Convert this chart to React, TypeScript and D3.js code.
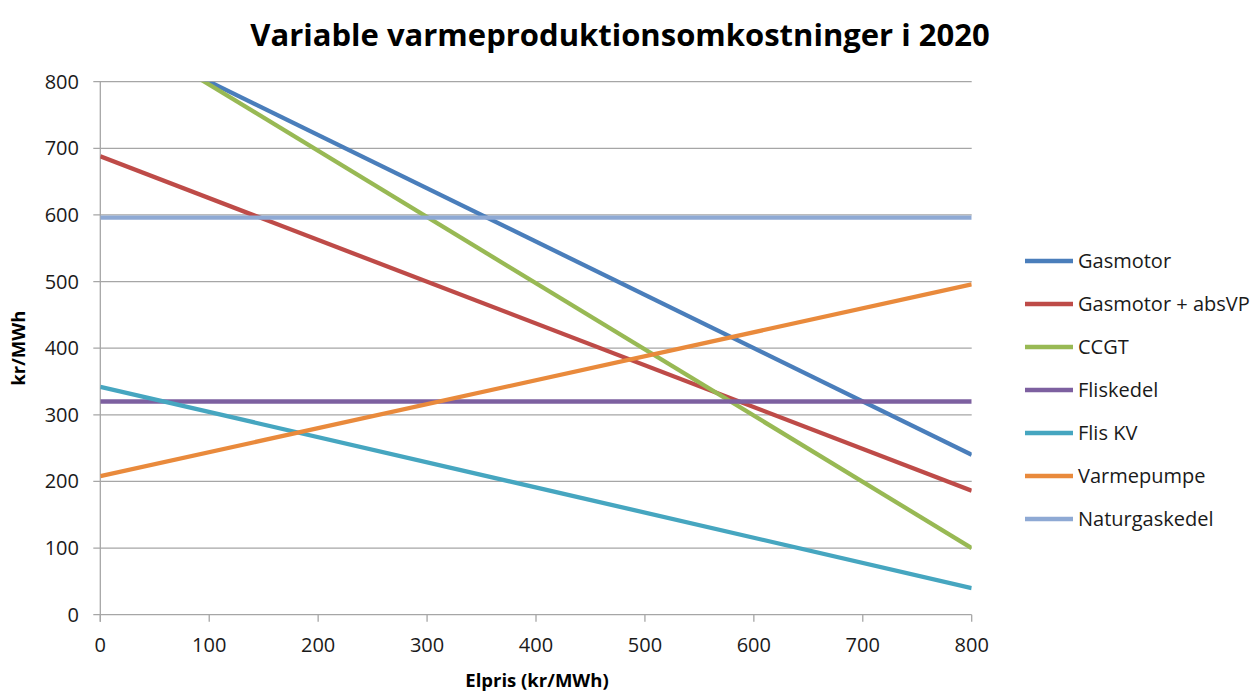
import React from "react";
import * as d3 from "d3";

// Electricity price (kr/MWh) at the two ends of each cost line
const elpris = [0, 800];

const seriesNames = [
  "Gasmotor",
  "Gasmotor + absVP",
  "CCGT",
  "Fliskedel",
  "Flis KV",
  "Varmepumpe",
  "Naturgaskedel",
];

// Variable heat production cost (kr/MWh) at elpris 0 and 800
const gasmotor = [880, 240];
const gasmotorAbsVP = [688, 186];
const ccgt = [895, 100];
const fliskedel = [320, 320];
const flisKV = [342, 40];
const varmepumpe = [208, 496];
const naturgaskedel = [596, 596];

const seriesValues = [gasmotor, gasmotorAbsVP, ccgt, fliskedel, flisKV, varmepumpe, naturgaskedel];

const seriesColors = ["#4A7EBB", "#BE4B48", "#98B954", "#7D60A0", "#46A6C0", "#E98A3C", "#8EA9D4"];

const xTicks = [0, 100, 200, 300, 400, 500, 600, 700, 800];
const yTicks = [0, 100, 200, 300, 400, 500, 600, 700, 800];

const W = 1255;
const H = 693;
const plot = { left: 100.3, right: 971.7, top: 81.7, bottom: 614.7 };
const FONT = "'Open Sans', 'Liberation Sans', sans-serif";
const GRID = "#A6A6A6";

export default function App() {
  const x = d3.scaleLinear().domain([0, 800]).range([plot.left, plot.right]);
  const y = d3.scaleLinear().domain([0, 800]).range([plot.bottom, plot.top]);
  const line = d3
    .line<[number, number]>()
    .x((d) => x(d[0]))
    .y((d) => y(d[1]));

  const legendX = 1025;
  const legendY0 = 261;
  const legendStep = 43;

  return (
    <svg
      width={W}
      height={H}
      style={{ position: "absolute", left: 0, top: 0, background: "#fff" }}
      fontFamily={FONT}
    >
      <defs>
        <clipPath id="plotClip">
          <rect x={plot.left} y={plot.top} width={plot.right - plot.left} height={plot.bottom - plot.top} />
        </clipPath>
      </defs>

      <text x={620} y={46} textAnchor="middle" fontSize={31} fontWeight="bold" fill="#000">
        Variable varmeproduktionsomkostninger i 2020
      </text>

      {/* horizontal gridlines and y ticks */}
      {yTicks.map((t) => (
        <g key={"y" + t}>
          <line x1={plot.left - 7} x2={plot.right} y1={y(t)} y2={y(t)} stroke={GRID} strokeWidth={1.3} />
          <text x={79} y={y(t) + 7} textAnchor="end" fontSize={20} fill="#1a1a1a">
            {t}
          </text>
        </g>
      ))}

      {/* y axis line */}
      <line x1={plot.left} x2={plot.left} y1={plot.top} y2={plot.bottom + 7} stroke={GRID} strokeWidth={1.3} />

      {/* x ticks */}
      {xTicks.map((t) => (
        <g key={"x" + t}>
          <line x1={x(t)} x2={x(t)} y1={plot.bottom} y2={plot.bottom + 7} stroke={GRID} strokeWidth={1.3} />
          <text x={x(t)} y={652} textAnchor="middle" fontSize={20} fill="#1a1a1a">
            {t}
          </text>
        </g>
      ))}

      {/* cost lines */}
      <g clipPath="url(#plotClip)">
        {seriesValues.map((vals, i) => (
          <path
            key={seriesNames[i]}
            d={line(elpris.map((e, j) => [e, vals[j]] as [number, number])) || ""}
            fill="none"
            stroke={seriesColors[i]}
            strokeWidth={4.3}
          />
        ))}
      </g>

      {/* axis titles */}
      <text
        transform={`translate(25, ${(plot.top + plot.bottom) / 2}) rotate(-90)`}
        textAnchor="middle"
        fontSize={18.5}
        fontWeight="bold"
        fill="#000"
      >
        kr/MWh
      </text>
      <text x={537} y={687} textAnchor="middle" fontSize={18.5} fontWeight="bold" fill="#000">
        Elpris (kr/MWh)
      </text>

      {/* legend */}
      {seriesNames.map((name, i) => {
        const ly = legendY0 + i * legendStep;
        return (
          <g key={"lg" + name}>
            <line x1={legendX} x2={legendX + 48} y1={ly} y2={ly} stroke={seriesColors[i]} strokeWidth={4.3} />
            <text x={legendX + 53} y={ly + 7} fontSize={20} fill="#1a1a1a">
              {name}
            </text>
          </g>
        );
      })}
    </svg>
  );
}
